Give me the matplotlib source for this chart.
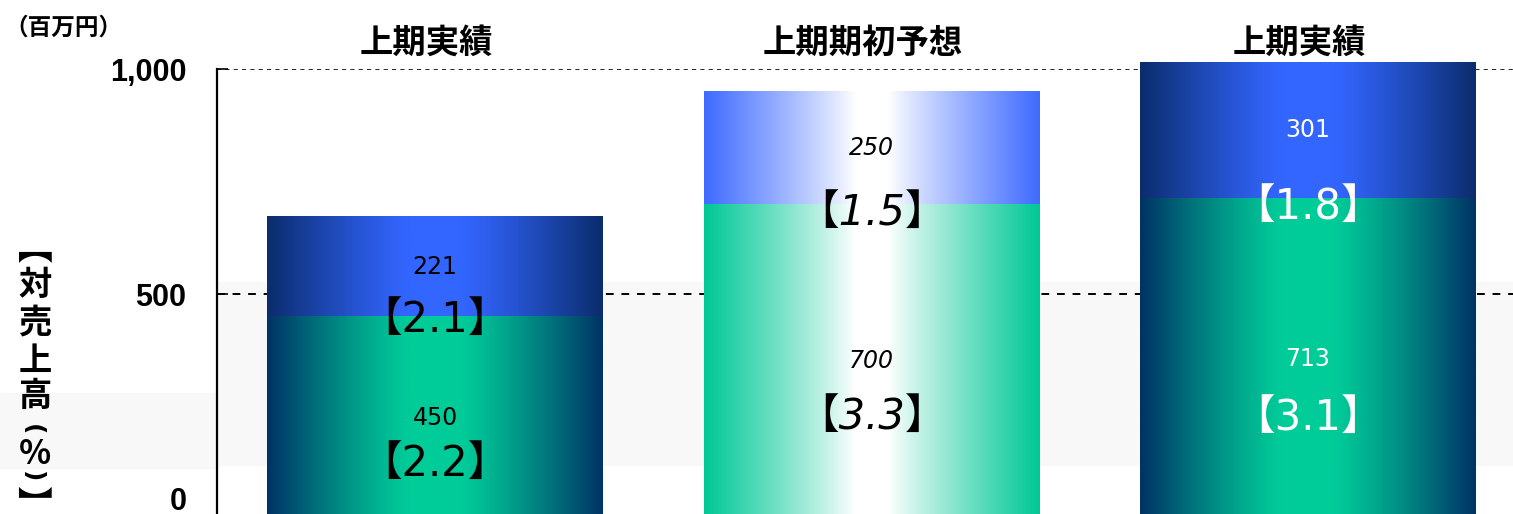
import matplotlib
matplotlib.use("Agg")
import matplotlib.pyplot as plt
import matplotlib.transforms as mtransforms
import numpy as np
from matplotlib.colors import to_rgb
from matplotlib.patches import Rectangle

# --- data ---
titles = ['上期実績', '上期期初予想', '上期実績']
lower = [450, 700, 713]
upper = [221, 250, 301]
lower_pct = ['2.2', '3.3', '3.1']
upper_pct = ['2.1', '1.5', '1.8']
yticks = [0, 500, 1000]
yticklabels = ['0', '500', '1,000']
unit_label = '（百万円）'
ylabel_chars = ['【', '対', '売', '上', '高', '(', '%', ')', '】']

# styles per bar: (lower edge, lower center, upper edge, upper center, text colour, italic)
styles = [
    ('#003366', '#00cc99', '#0b2c6c', '#3366ff', 'black', False),
    ('#00c896', '#ffffff', '#3f6bff', '#ffffff', 'black', True),
    ('#003366', '#00cc99', '#0b2c6c', '#3366ff', 'white', False),
]
# distance (points) from segment value to its percentage label
off_lower = [33, 40, 43]
off_upper = [38, 47, 55]

W, H = 1513, 514


def ink_offset(ch, **kw):
    # where the ink of a centred character really lands (pixels, y down)
    f = plt.figure(figsize=(1.2, 1.2), dpi=100)
    f.text(0.5, 0.5, ch, ha='center', va='center', **kw)
    f.canvas.draw()
    a = np.asarray(f.canvas.buffer_rgba())[:, :, 0]
    yy, xx = np.where(a < 128)
    plt.close(f)
    if len(xx) == 0:
        return 0.0, 0.0
    return (xx.min() + xx.max()) / 2 - 60, (yy.min() + yy.max()) / 2 - 60


fig = plt.figure(figsize=(W / 100, H / 100), dpi=100)
# axes runs a few pixels below the picture so that 0 sits just out of view
ax = fig.add_axes([217 / W, -5 / H, 1 - 217 / W, 450 / H])
ax.set_facecolor('none')

# faint grey band in the background
fig.add_artist(Rectangle((0, (H - 468) / H), 217 / W, 75 / H, transform=fig.transFigure,
                         color='#f8f8f8', zorder=-2))
fig.add_artist(Rectangle((217 / W, (H - 465) / H), 1, 183 / H, transform=fig.transFigure,
                         color='#f8f8f8', zorder=-2))


def gradient(edge, center, soft):
    t = np.linspace(0, 1, 256)
    w = np.abs(t - 0.5) * 2
    if soft:
        m = np.clip((w - 0.1) / 0.9, 0, 1) ** 0.9
    else:
        m = np.clip((w - 0.15) / 0.85, 0, 1) ** 1.2
    e, c = np.array(to_rgb(edge)), np.array(to_rgb(center))
    row = c[None, :] * (1 - m[:, None]) + e[None, :] * m[:, None]
    return np.repeat(row[None, :, :], 2, axis=0)


x = np.arange(len(titles))
bw = 0.77
b1 = ax.bar(x, lower, bw, color='none', zorder=2)
b2 = ax.bar(x, upper, bw, bottom=lower, color='none', zorder=2)

for i in range(len(titles)):
    le, lc, ue, uc, tc, it = styles[i]
    for p, (ec, cc) in ((b1[i], (le, lc)), (b2[i], (ue, uc))):
        ax.imshow(gradient(ec, cc, it),
                  extent=(p.get_x(), p.get_x() + p.get_width(), p.get_y(), p.get_y() + p.get_height()),
                  aspect='auto', zorder=2, clip_on=False, interpolation='bilinear')

    style = 'italic' if it else 'normal'
    for base, val, pct, off in ((0, lower[i], lower_pct[i], off_lower[i]),
                                (lower[i], upper[i], upper_pct[i], off_upper[i])):
        ym = base + val / 2
        ax.text(x[i], ym, f'{val}', ha='center', va='center', fontsize=17, color=tc,
                style=style, family=['DejaVu Sans', 'Noto Sans CJK JP'], zorder=4)
        ax.annotate(f'【{pct}】', (x[i], ym), xytext=(0, -off), textcoords='offset points',
                    ha='center', va='center', fontsize=30, color=tc, style=style,
                    family=['DejaVu Sans', 'Noto Sans CJK JP'], zorder=4,
                    annotation_clip=False)

    ax.text(x[i] - 0.02, 1058, titles[i], ha='center', va='center', fontsize=24,
            fontweight='bold', family='Noto Sans CJK JP', clip_on=False)

# gridlines
ax.axhline(1000, color='black', lw=1.2, ls=(0, (2.5, 2.5)), zorder=1)
ax.axhline(500, color='black', lw=1.4, ls=(0, (4, 4)), zorder=1)

ax.set_xlim(-0.5, 2.47)
ax.set_ylim(0, 1000)
ax.set_xticks([])
ax.set_yticks(yticks)
ax.set_yticklabels(yticklabels, fontsize=22, fontweight='bold', family='Liberation Sans')
ax.tick_params(axis='y', direction='in', length=8, width=1.2, pad=22)
# "0" label lifted so it stays inside the picture
lab0 = ax.get_yticklabels()[0]
lab0.set_transform(lab0.get_transform() + mtransforms.ScaledTranslation(0, 15 / 72, fig.dpi_scale_trans))

for s in ['top', 'right', 'bottom']:
    ax.spines[s].set_visible(False)
ax.spines['left'].set_linewidth(1.6)

fig.text(4 / W, (H - 28) / H, unit_label, ha='left', va='center', fontsize=17,
         fontweight='bold', family='Noto Sans CJK JP')

# vertical y label, one character at a time; brackets turned for vertical writing
ys = [257, 282, 320, 357, 393, 428, 452, 475, 492]
for ch, yy in zip(ylabel_chars, ys):
    if ch in '【】':
        kw = dict(fontsize=25, fontweight='bold', family='Noto Sans CJK JP', rotation=-90)
    elif ch in '()':
        kw = dict(fontsize=18, fontweight='bold', family='DejaVu Sans', rotation=-90)
    else:
        kw = dict(fontsize=24, fontweight='bold', family=['Noto Sans CJK JP', 'DejaVu Sans'])
    dx, dy = ink_offset(ch, **kw)
    fig.text((35 - dx) / W, (H - yy + dy) / H, ch, ha='center', va='center', **kw)

fig.savefig('out.png', dpi=100)
